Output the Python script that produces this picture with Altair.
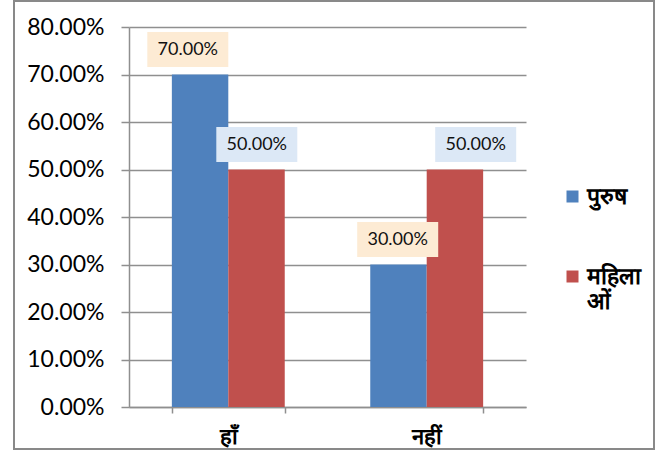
import altair as alt
import pandas as pd

# Survey answers by group
categories = ["हाँ", "नहीं"]
series_names = ["पुरुष", "महिलाओं"]
men_values = [0.70, 0.30]
women_values = [0.50, 0.50]

bar_colors = ["#4F81BD", "#C0504D"]
label_box_colors = ["#FDEBD4", "#DCE8F6"]
# horizontal nudge (px) of each value label from the category centre
label_dx = {("हाँ", "पुरुष"): -40.5, ("हाँ", "महिलाओं"): 28.5,
            ("नहीं", "पुरुष"): -29.0, ("नहीं", "महिलाओं"): 49.0}

rows = []
for i, cat in enumerate(categories):
    rows.append({"cat": cat, "series": series_names[0], "value": men_values[i]})
    rows.append({"cat": cat, "series": series_names[1], "value": women_values[i]})
df = pd.DataFrame(rows)

PLOT_W, PLOT_H = 397, 380
GRID = "#8F8F8F"
NUM_FONT = "Lato"

x_enc = alt.X(
    "cat:N",
    sort=categories,
    title=None,
    scale=alt.Scale(paddingInner=0.431, paddingOuter=0.216),
    axis=alt.Axis(
        labelAngle=0,
        labelFontSize=22,
        labelFontWeight="bold",
        labelColor="#000000",
        labelBaseline="middle",
        labelPadding=23,
        tickBand="extent",
        tickSize=6,
        tickColor=GRID,
        tickWidth=1.5,
        domainColor=GRID,
        domainWidth=1.5,
        grid=False,
    ),
)
y_enc = alt.Y(
    "value:Q",
    title=None,
    scale=alt.Scale(domain=[0, 0.8]),
    axis=alt.Axis(
        values=[0, 0.1, 0.2, 0.3, 0.4, 0.5, 0.6, 0.7, 0.8],
        format=".2%",
        labelFont=NUM_FONT,
        labelFontSize=23,
        labelColor="#000000",
        labelPadding=17,
        tickSize=8,
        tickColor=GRID,
        tickWidth=1.5,
        domainColor=GRID,
        domainWidth=1.5,
        gridColor=GRID,
        gridWidth=1.5,
    ),
)

bars = alt.Chart(df).mark_bar().encode(
    x=x_enc,
    xOffset=alt.XOffset("series:N", sort=series_names),
    y=y_enc,
    color=alt.Color(
        "series:N",
        sort=series_names,
        scale=alt.Scale(domain=series_names, range=bar_colors),
        legend=alt.Legend(
            title=None,
            orient="none",
            legendX=432,
            legendY=158,
            padding=0,
            symbolType="square",
            symbolSize=144,
            symbolStrokeWidth=0,
            labelFontSize=23,
            labelFontWeight="bold",
            labelColor="#000000",
            labelOffset=3,
            rowPadding=56,
            labelExpr="datum.label == 'महिलाओं' ? ['महिला', 'ओं'] : datum.label",
        ),
    ),
)

box_shape = "M-1,-0.432L1,-0.432L1,0.432L-1,0.432Z"
label_layers = []
for _, r in df.iterrows():
    one = pd.DataFrame([r])
    dx = label_dx[(r["cat"], r["series"])]
    fill = label_box_colors[series_names.index(r["series"])]
    base = alt.Chart(one).encode(
        x=alt.X("cat:N", sort=categories),
        y=alt.Y("value:Q"),
    )
    label_layers.append(
        base.mark_point(
            shape=box_shape, size=6561, filled=True, fill=fill,
            opacity=1, strokeWidth=0, xOffset=dx, yOffset=-25,
        )
    )
    label_layers.append(
        base.mark_text(
            dx=dx, dy=-25, font=NUM_FONT, fontSize=18, color="#111111",
            baseline="middle", align="center",
        ).encode(text=alt.Text("value:Q", format=".2%"))
    )

frame = alt.Chart(pd.DataFrame({"k": [0]})).mark_rect(
    fill="transparent", stroke="#898989", strokeWidth=2
).encode(
    x=alt.value(-115), x2=alt.value(525),
    y=alt.value(-26), y2=alt.value(422),
)

chart = alt.layer(bars, *label_layers, frame).properties(
    width=PLOT_W,
    height=PLOT_H,
    autosize=alt.AutoSizeParams(type="none"),
    padding={"left": 129, "top": 27, "right": 134, "bottom": 45},
    background="#FFFFFF",
).configure_view(strokeOpacity=0)

chart.save("out.html", embed_options={"renderer": "svg", "actions": False})
